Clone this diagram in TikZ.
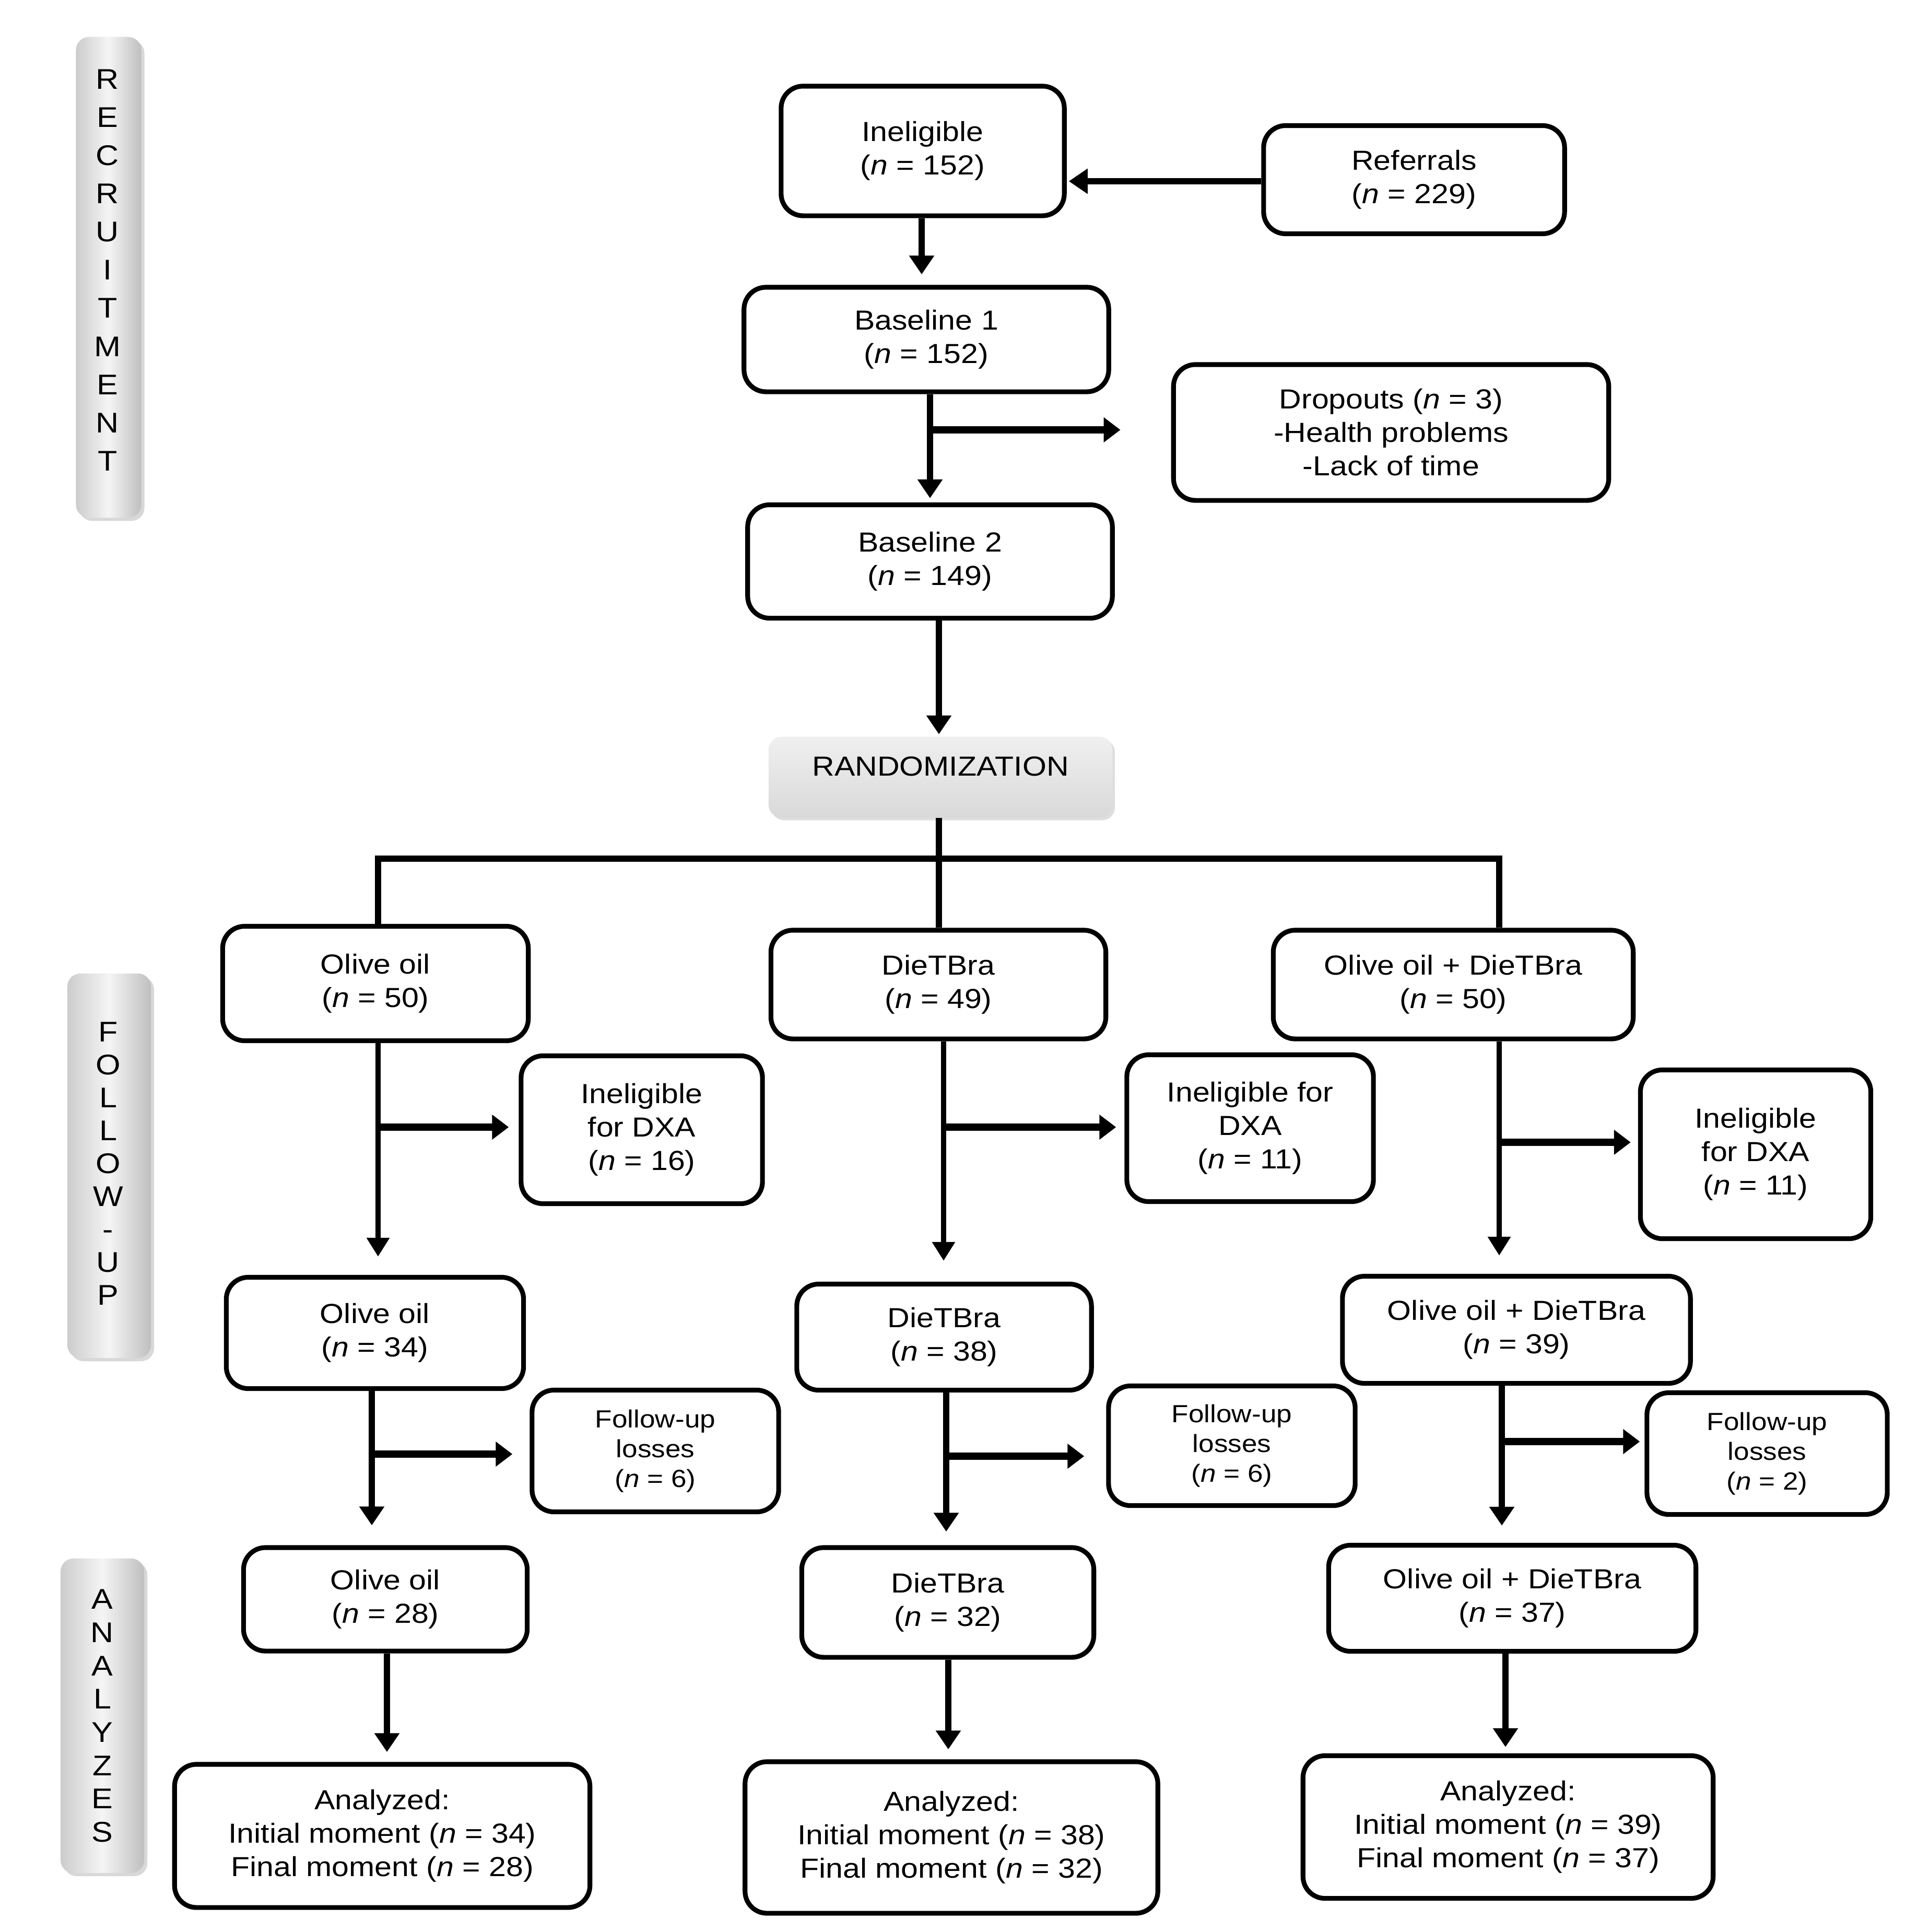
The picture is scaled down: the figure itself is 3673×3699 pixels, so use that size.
\documentclass[tikz,border=0pt]{standalone}
\usepackage{fontspec}
\setmainfont{Liberation Sans}[FakeStretch=1.12]
\usetikzlibrary{arrows.meta,calc,shadows}
\begin{document}
\begin{tikzpicture}[x=0.01cm,y=-0.01cm,
  box/.style={draw=black,line width=2.6pt,rounded corners=0.42cm,fill=white,align=center,inner sep=0pt,
    font=\fontsize{15}{18.2}\selectfont},
  smallbox/.style={box,font=\fontsize{13.5}{16.2}\selectfont},
  graylab/.style={rounded corners=0.25cm,inner sep=0pt,align=center,
    left color=gray!40,right color=gray!50,middle color=gray!8,
    drop shadow={shadow xshift=0.06cm,shadow yshift=-0.06cm,fill=gray!60}},
  labtext/.style={inner sep=0pt,align=center},
  conn/.style={line width=3.2pt},
  arr/.style={line width=3.3pt,-{Triangle[length=0.36cm,width=0.46cm]}},
  thinarr/.style={line width=2.6pt,-{Triangle[length=0.36cm,width=0.42cm]}},
  brarr/.style={line width=3.8pt,-{Triangle[length=0.32cm,width=0.46cm]}}
]
\useasboundingbox (0,0) rectangle (3673,3699);
\fill[white] (0,0) rectangle (3673,3699);

% side labels
\node[graylab,minimum width=1.25cm,minimum height=9.2cm] (lab1) at (208,531) {};
\node[labtext,font=\fontsize{15.5}{20.8}\selectfont] (lab1t) at (206,517)
  {R\\E\\C\\R\\U\\I\\T\\M\\E\\N\\T};
\node[graylab,minimum width=1.6cm,minimum height=7.36cm] (lab2) at (209,2232) {};
\node[labtext,font=\fontsize{15.5}{17.9}\selectfont] (lab2t) at (207,2228)
  {F\\O\\L\\L\\O\\W\\-\\U\\P};
\node[graylab,minimum width=1.6cm,minimum height=6.02cm] (lab3) at (196,3285) {};
\node[labtext,font=\fontsize{15.5}{18.1}\selectfont] (lab3t) at (196,3285)
  {A\\N\\A\\L\\Y\\Z\\E\\S};

% recruitment boxes
\node[box,minimum width=5.42cm,minimum height=2.48cm] (inel) at (1767,289) {Ineligible\\(\textit{n} = 152)};
\node[box,minimum width=5.76cm,minimum height=2.07cm] (refer) at (2708,344) {Referrals\\(\textit{n} = 229)};
\node[box,minimum width=6.98cm,minimum height=2.0cm] (base1) at (1774,650) {Baseline 1\\(\textit{n} = 152)};
\node[box,minimum width=8.33cm,minimum height=2.6cm] (drop) at (2664,828) {Dropouts (\textit{n} = 3)\\-Health problems\\-Lack of time};
\node[box,minimum width=6.98cm,minimum height=2.17cm] (base2) at (1781,1075) {Baseline 2\\(\textit{n} = 149)};
\node[rounded corners=0.25cm,minimum width=6.58cm,minimum height=1.55cm,inner sep=0pt,
  top color=gray!12,bottom color=gray!30,
  drop shadow={shadow xshift=0.05cm,shadow yshift=-0.05cm,fill=gray!50}] (rand) at (1801,1488) {};
\node[font=\fontsize{15}{18}\selectfont] (randtxt) at (1801,1467) {RANDOMIZATION};

% allocation
\node[box,minimum width=5.85cm,minimum height=2.19cm] (oo1) at (719,1883) {Olive oil\\(\textit{n} = 50)};
\node[box,minimum width=6.41cm,minimum height=2.08cm] (dt1) at (1797,1885) {DieTBra\\(\textit{n} = 49)};
\node[box,minimum width=6.89cm,minimum height=2.08cm] (od1) at (2783,1885) {Olive oil + DieTBra\\(\textit{n} = 50)};

\node[box,minimum width=4.62cm,minimum height=2.83cm] (ix1) at (1229,2163) {Ineligible\\for DXA\\(\textit{n} = 16)};
\node[box,minimum width=4.72cm,minimum height=2.81cm] (ix2) at (2394,2160) {Ineligible for\\DXA\\(\textit{n} = 11)};
\node[box,minimum width=4.41cm,minimum height=3.23cm] (ix3) at (3362,2210) {Ineligible\\for DXA\\(\textit{n} = 11)};

\node[box,minimum width=5.69cm,minimum height=2.13cm] (oo2) at (718,2552) {Olive oil\\(\textit{n} = 34)};
\node[box,minimum width=5.64cm,minimum height=2.03cm] (dt2) at (1808,2560) {DieTBra\\(\textit{n} = 38)};
\node[box,minimum width=6.66cm,minimum height=2.05cm] (od2) at (2904,2546) {Olive oil + DieTBra\\(\textit{n} = 39)};

\node[smallbox,minimum width=4.72cm,minimum height=2.33cm] (fl1) at (1255,2778) {Follow-up\\losses\\(\textit{n} = 6)};
\node[smallbox,minimum width=4.72cm,minimum height=2.29cm] (fl2) at (2359,2768) {Follow-up\\losses\\(\textit{n} = 6)};
\node[smallbox,minimum width=4.6cm,minimum height=2.33cm] (fl3) at (3384,2783) {Follow-up\\losses\\(\textit{n} = 2)};

\node[box,minimum width=5.43cm,minimum height=1.98cm] (oo3) at (738,3062) {Olive oil\\(\textit{n} = 28)};
\node[box,minimum width=5.59cm,minimum height=2.1cm] (dt3) at (1815,3068) {DieTBra\\(\textit{n} = 32)};
\node[box,minimum width=7.03cm,minimum height=2.03cm] (od3) at (2896,3060) {Olive oil + DieTBra\\(\textit{n} = 37)};

\node[box,minimum width=7.95cm,minimum height=2.74cm] (an1) at (732,3515) {Analyzed:\\Initial moment (\textit{n} = 34)\\Final moment (\textit{n} = 28)};
\node[box,minimum width=7.9cm,minimum height=2.9cm] (an2) at (1822,3518) {Analyzed:\\Initial moment (\textit{n} = 38)\\Final moment (\textit{n} = 32)};
\node[box,minimum width=7.85cm,minimum height=2.73cm] (an3) at (2888,3498) {Analyzed:\\Initial moment (\textit{n} = 39)\\Final moment (\textit{n} = 37)};

% helper coordinates
\coordinate (yR) at (0,347);
\coordinate (xA) at (1765,0);
\coordinate (xB) at (1781,0);
\coordinate (b1j) at (1781,823);
\coordinate (xC) at (1798,0);
\coordinate (jL) at (724,1644);
\coordinate (jM) at (1798,1644);
\coordinate (jR) at (2871,1644);
\coordinate (c1) at (724,0);
\coordinate (c1j) at (724,2158);
\coordinate (c2) at (1807,0);
\coordinate (c2j) at (1807,2158);
\coordinate (c3) at (2871,0);
\coordinate (c3j) at (2871,2187);
\coordinate (d1) at (712,0);
\coordinate (d1j) at (712,2784);
\coordinate (d2) at (1812,0);
\coordinate (d2j) at (1812,2788);
\coordinate (d3) at (2876,0);
\coordinate (d3j) at (2876,2760);
\coordinate (e1) at (741,0);
\coordinate (e2) at (1816,0);
\coordinate (e3) at (2883,0);

% recruitment connectors
\draw[arr,shorten >=0.04cm] (refer.west |- yR) -- (inel.east |- yR);
\draw[arr,shorten >=0.2cm] (inel.south -| xA) -- (base1.north -| xA);
\draw[arr,shorten >=0.08cm] (base1.south -| xB) -- (base2.north -| xB);
\draw[brarr,shorten >=0.97cm] (b1j) -- (drop.west |- b1j);
\draw[arr,shorten >=0.04cm] (base2.south -| xC) -- (rand.north -| xC);

% randomization split
\draw[conn] (rand.south -| jM) -- (dt1.north -| jM);
\draw[conn] (oo1.north -| jL) -- (jL) -- (jR) -- (od1.north -| jR);

% follow-up connectors
\draw[thinarr,shorten >=0.35cm] (oo1.south -| c1) -- (oo2.north -| c1);
\draw[brarr,shorten >=0.19cm] (c1j) -- (ix1.west |- c1j);
\draw[thinarr,shorten >=0.4cm] (dt1.south -| c2) -- (dt2.north -| c2);
\draw[brarr,shorten >=0.16cm] (c2j) -- (ix2.west |- c2j);
\draw[thinarr,shorten >=0.35cm] (od1.south -| c3) -- (od2.north -| c3);
\draw[brarr,shorten >=0.14cm] (c3j) -- (ix3.west |- c3j);

\draw[arr,shorten >=0.38cm] (oo2.south -| d1) -- (oo3.north -| d1);
\draw[brarr,shorten >=0.33cm] (d1j) -- (fl1.west |- d1j);
\draw[arr,shorten >=0.26cm] (dt2.south -| d2) -- (dt3.north -| d2);
\draw[brarr,shorten >=0.42cm] (d2j) -- (fl2.west |- d2j);
\draw[arr,shorten >=0.33cm] (od2.south -| d3) -- (od3.north -| d3);
\draw[brarr,shorten >=0.09cm] (d3j) -- (fl3.west |- d3j);

% analyses connectors
\draw[arr,shorten >=0.19cm] (oo3.south -| e1) -- (an1.north -| e1);
\draw[arr,shorten >=0.19cm] (dt3.south -| e2) -- (an2.north -| e2);
\draw[arr,shorten >=0.12cm] (od3.south -| e3) -- (an3.north -| e3);
\end{tikzpicture}
\end{document}
